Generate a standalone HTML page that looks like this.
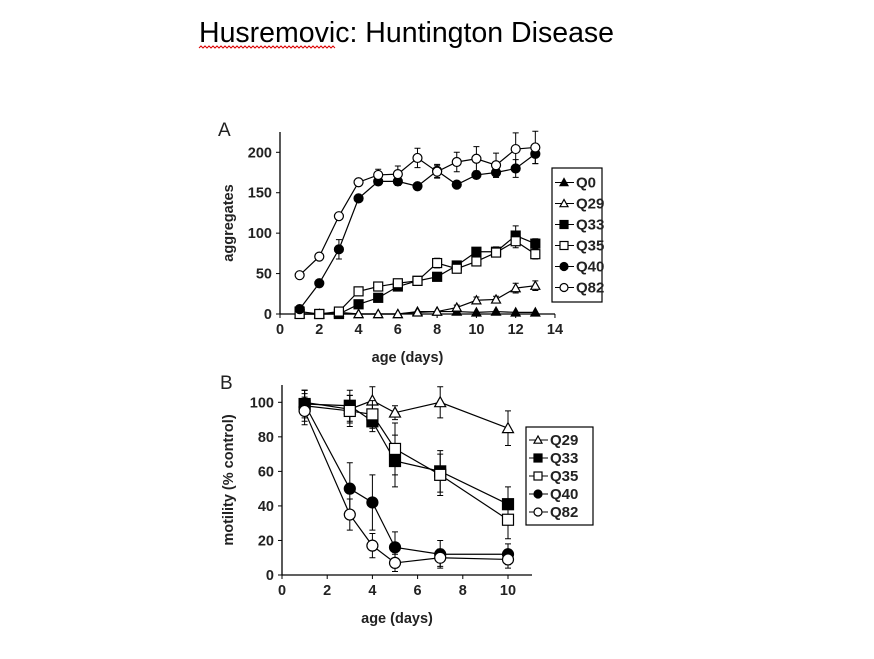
<!DOCTYPE html>
<html><head><meta charset="utf-8"><style>
body{margin:0;background:#fff;width:874px;height:654px;overflow:hidden;font-family:"Liberation Sans",sans-serif}
</style></head><body>
<svg width="874" height="654" xmlns="http://www.w3.org/2000/svg">
<text x="199" y="42" font-size="28.5" fill="#000">Husremovic: Huntington Disease</text>
<path d="M199 48 l2 -2 l2 2 l2 -2 l2 2 l2 -2 l2 2 l2 -2 l2 2 l2 -2 l2 2 l2 -2 l2 2 l2 -2 l2 2 l2 -2 l2 2 l2 -2 l2 2 l2 -2 l2 2 l2 -2 l2 2 l2 -2 l2 2 l2 -2 l2 2 l2 -2 l2 2 l2 -2 l2 2 l2 -2 l2 2 l2 -2 l2 2 l2 -2 l2 2 l2 -2 l2 2 l2 -2 l2 2 l2 -2 l2 2 l2 -2 l2 2 l2 -2 l2 2 l2 -2 l2 2 l2 -2 l2 2 l2 -2 l2 2 l2 -2 l2 2 l2 -2 l2 2 l2 -2 l2 2 l2 -2 l2 2 l2 -2 l2 2 l2 -2 l2 2 l2 -2 l2 2 l2 -2 l2 2" stroke="#d00" fill="none" stroke-width="1"/>
<g id="chartA"></g>
<g id="chartB"></g>
</svg>
<script>
const daysA=[1,2,3,4,5,6,7,8,9,10,11,12,13];
const q0A=[0,0,0,0,0,0,3,3,3,2,3,2,2];
const q29A=[0,0,2,0,0,0,2,3,8,17,18,32,35];
const q29Aerr=[0,0,0,0,0,0,0,0,3,4,4,6,6];
const q33A=[3,0,0,12,20,34,41,46,60,77,77,97,87];
const q33Aerr=[0,0,0,0,0,4,3,3,4,4,6,12,6];
const q35A=[0,0,3,28,34,38,41,63,56,65,76,90,74];
const q35Aerr=[0,0,0,3,4,4,3,6,4,4,5,8,6];
const q40A=[6,38,80,143,164,164,158,177,160,172,175,180,198];
const q40Aerr=[0,3,12,4,4,5,4,8,3,4,6,11,12];
const q82A=[48,71,121,163,172,173,193,176,188,192,184,204,206];
const q82Aerr=[0,0,4,3,7,10,12,8,12,15,15,20,20];
const xTicksA=[0,2,4,6,8,10,12,14];
const yTicksA=[0,50,100,150,200];
const daysB=[1,3,4,5,7,10];
const q29B=[100,96,101,94,100,85];
const q29Berr=[7,8,8,4,9,10];
const q33B=[99,98,89,66,60,41];
const q33Berr=[8,9,6,15,12,10];
const q35B=[98,95,93,73,58,32];
const q35Berr=[9,9,8,15,12,11];
const q40B=[99,50,42,16,12,12];
const q40Berr=[6,15,16,9,8,6];
const q82B=[95,35,17,7,10,9];
const q82Berr=[8,9,7,5,5,5];
const xTicksB=[0,2,4,6,8,10];
const yTicksB=[0,20,40,60,80,100];

const NS="http://www.w3.org/2000/svg";
function mk(p,t,a){const e=document.createElementNS(NS,t);for(const k in a)e.setAttribute(k,a[k]);p.appendChild(e);return e;}
function marker(g,shape,x,y,filled,s){
  const f=filled?"#000":"#fff";let e;
  if(shape==="tri")e=mk(g,"polygon",{points:`${x},${y-s} ${x-s},${y+s*0.8} ${x+s},${y+s*0.8}`,fill:f,stroke:"#000","stroke-width":1.2});
  else if(shape==="sq")e=mk(g,"rect",{x:x-s,y:y-s,width:2*s,height:2*s,fill:f,stroke:"#000","stroke-width":1.2});
  else e=mk(g,"circle",{cx:x,cy:y,r:s,fill:f,stroke:"#000","stroke-width":1.2});
  return e;
}
function draw(gid,cfg){
  const g=document.getElementById(gid);
  const X=v=>cfg.x0+v*cfg.kx, Y=v=>cfg.y0-v*cfg.ky;
  let e=mk(g,"line",{x1:cfg.x0,y1:cfg.y0,x2:cfg.xEnd,y2:cfg.y0,stroke:"#000","stroke-width":1.3});
  
  e=mk(g,"line",{x1:cfg.x0,y1:cfg.y0,x2:cfg.x0,y2:cfg.yTop,stroke:"#000","stroke-width":1.3});
  
  cfg.xt.forEach(t=>{mk(g,"line",{x1:X(t),y1:cfg.y0,x2:X(t),y2:cfg.y0+4,stroke:"#000"});
    e=mk(g,"text",{x:X(t),y:cfg.y0+20,"font-size":14.5,"font-weight":"bold","text-anchor":"middle",fill:"#222"});e.textContent=t;
    });
  cfg.yt.forEach(t=>{mk(g,"line",{x1:cfg.x0-4,y1:Y(t),x2:cfg.x0,y2:Y(t),stroke:"#000"});
    e=mk(g,"text",{x:cfg.x0-8,y:Y(t)+5,"font-size":14.5,"font-weight":"bold","text-anchor":"end",fill:"#222"});e.textContent=t;
    });
  e=mk(g,"text",{x:(cfg.x0+cfg.xEnd)/2-10,y:cfg.y0+48,"font-size":14.5,"font-weight":"bold","text-anchor":"middle",fill:"#222"});e.textContent="age (days)";
  
  const cy=(cfg.y0+cfg.yTop)/2;
  e=mk(g,"text",{x:cfg.ylx,y:cy,"font-size":14.5,"font-weight":"bold","text-anchor":"middle",fill:"#222",transform:`rotate(-90 ${cfg.ylx} ${cy})`});e.textContent=cfg.ylabel;
  
  e=mk(g,"text",{x:cfg.x0-62,y:cfg.yTop+4,"font-size":19,fill:"#222"});e.textContent=cfg.panel;
  
  cfg.series.forEach(s=>{
    cfg.days.forEach((d,i)=>{const er=s.err?s.err[i]:0;if(!er)return;
      const x=X(d),y1=Y(s.v[i]-er),y2=Y(s.v[i]+er);
      const b=mk(g,"path",{d:`M${x},${y1}V${y2}M${x-3},${y1}h6M${x-3},${y2}h6`,stroke:"#000","stroke-width":1,fill:"none"});
      });
    const pts=cfg.days.map((d,i)=>X(d)+","+Y(s.v[i])).join(" ");
    e=mk(g,"polyline",{points:pts,fill:"none",stroke:"#000","stroke-width":1.2});
    
    cfg.days.forEach((d,i)=>{const m=marker(g,s.shape,X(d),Y(s.v[i]),s.filled,cfg.ms);
      });
  });
  const lg=mk(g,"g",{});
  
  mk(lg,"rect",{x:cfg.lx,y:cfg.ly,width:cfg.lw,height:cfg.series.length*cfg.lh+8,fill:"#fff",stroke:"#000","stroke-width":1.2});
  cfg.series.forEach((s,i)=>{const yy=cfg.ly+4+cfg.lh*(i+0.5);
    mk(lg,"line",{x1:cfg.lx+3,y1:yy,x2:cfg.lx+22,y2:yy,stroke:"#000"});
    marker(lg,s.shape,cfg.lx+12,yy,s.filled,4);
    const t=mk(lg,"text",{x:cfg.lx+24,y:yy+5,"font-size":15,"font-weight":"bold",fill:"#222"});t.textContent=s.name;
    });
}
draw("chartA",{x0:280,y0:314,kx:19.64,ky:0.8085,xEnd:555,yTop:132,days:daysA,xt:xTicksA,yt:yTicksA,ms:4.5,
 ylabel:"aggregates",ylx:233,panel:"A",lx:552,ly:168,lw:50,lh:21,
 series:[{name:"Q0",v:q0A,shape:"tri",filled:true},{name:"Q29",v:q29A,err:q29Aerr,shape:"tri",filled:false},
 {name:"Q33",v:q33A,err:q33Aerr,shape:"sq",filled:true},{name:"Q35",v:q35A,err:q35Aerr,shape:"sq",filled:false},
 {name:"Q40",v:q40A,err:q40Aerr,shape:"circ",filled:true},{name:"Q82",v:q82A,err:q82Aerr,shape:"circ",filled:false}]});
draw("chartB",{x0:282,y0:575,kx:22.6,ky:1.727,xEnd:532,yTop:385,days:daysB,xt:xTicksB,yt:yTicksB,ms:5.5,
 ylabel:"motility (% control)",ylx:233,panel:"B",lx:526,ly:427,lw:67,lh:18,
 series:[{name:"Q29",v:q29B,err:q29Berr,shape:"tri",filled:false},{name:"Q33",v:q33B,err:q33Berr,shape:"sq",filled:true},
 {name:"Q35",v:q35B,err:q35Berr,shape:"sq",filled:false},{name:"Q40",v:q40B,err:q40Berr,shape:"circ",filled:true},
 {name:"Q82",v:q82B,err:q82Berr,shape:"circ",filled:false}]});
</script>
</body></html>
